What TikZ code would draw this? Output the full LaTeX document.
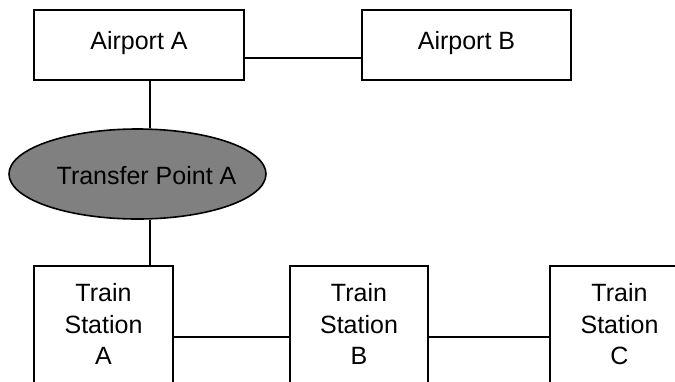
\documentclass[tikz,border=0pt]{standalone}
\usepackage{fontspec}
\setmainfont{Liberation Sans}
\usetikzlibrary{shapes.geometric}
\begin{document}
\begin{tikzpicture}[x=1pt,y=1pt,
  every node/.style={font=\fontsize{25}{31.5}\selectfont, text=black},
  box/.style={draw=black, line width=1.6pt, rectangle, inner sep=0pt, align=center},
  hub/.style={draw=black, line width=1.6pt, ellipse, inner sep=0pt,
              minimum width=257pt, minimum height=90pt},
  link/.style={draw=black, line width=1.6pt}]
  \useasboundingbox (0,0) rectangle (675,-381);
  \fill[white] (0,0) rectangle (675,-381);
  \begin{scope}
    \clip (0,0) rectangle (675,-381);
    % airports
    \node[box, minimum width=210pt, minimum height=70pt, text height=16pt, text depth=8pt]
      (aa) at (139,-45) {Airport A};
    \node[box, minimum width=209pt, minimum height=70pt, text height=16pt, text depth=8pt]
      (ab) at (466.5,-45) {Airport B};
    % transfer point
    \node[hub, fill={rgb,255:red,128;green,128;blue,128},
          label={[xshift=9pt, yshift=-2pt]center:Transfer Point A}] (tp) at (137.5,-174) {};
    % train stations (lower edges run past the bottom)
    \node[box, minimum width=139pt, minimum height=120pt] (ta) at (103.5,-326)
      {Train\\Station\\A\rule[-4pt]{0pt}{4pt}};
    \node[box, minimum width=138pt, minimum height=120pt] (tb) at (359,-326)
      {Train\\Station\\B\rule[-4pt]{0pt}{4pt}};
    \node[box, minimum width=139pt, minimum height=120pt] (tc) at (619.5,-326)
      {Train\\Station\\C\rule[-4pt]{0pt}{4pt}};
    % spine running down from airport A
    \coordinate (spine) at (150,0);
    \draw[link] ([yshift=-13pt]aa.east) -- ([yshift=-13pt]ab.west);
    \draw[link] (aa.south -| spine) -- (tp.north -| spine);
    \draw[link] (tp.south -| spine) -- (ta.north -| spine);
    \draw[link] ([yshift=-11pt]ta.east) -- ([yshift=-11pt]tb.west);
    \draw[link] ([yshift=-11pt]tb.east) -- ([yshift=-11pt]tc.west);
  \end{scope}
\end{tikzpicture}
\end{document}
